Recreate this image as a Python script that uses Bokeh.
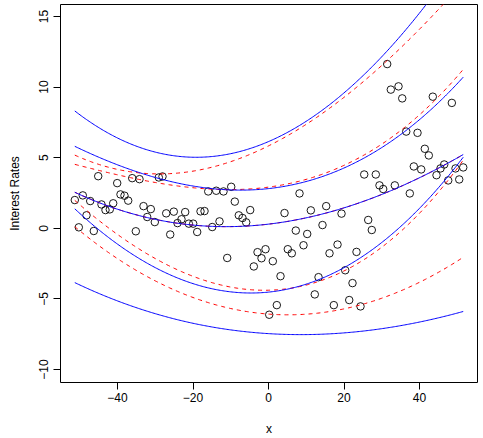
import numpy as np
from bokeh.plotting import figure
from bokeh.models import FixedTicker, Range1d
from bokeh.embed import file_html
from bokeh.resources import INLINE

# ---- data ----
x_vals = [-45.11, -40.08, -36.11, -34.17, -29.06, -28.08, -51.31, -49.19, -47.23, -39.21,
          -38.15, -37.17, -44.24, -43.18, -42.04, -41.14, -33.11, -31.18, -32.13, -30.12,
          -27.10, -25.09, -22.07, -23.05, -24.11, -21.11, -19.95, -18.89, -48.21, -50.25,
          -46.28, -35.15, -26.04,
          -9.88, -15.97, -13.85, -11.92, 8.21, -8.93, -18.01, -16.95, -4.85, -7.87,
          -6.89, -5.91, -12.98, -14.91, 4.24, 11.21, 15.28, 14.30, 7.23, 10.25,
          9.27, 5.11, 6.17, -0.79, -2.91, -1.85, 1.14, -10.94, -3.89, 3.18,
          13.25, 16.16, 12.26, 2.20, 0.19,
          31.44, 32.40, 34.44, 35.42, 43.52, 48.56, 36.48, 39.47, 41.40, 42.46,
          38.49, 40.45, 25.35, 28.42, 29.40, 30.38, 33.46, 37.43, 44.50, 45.56,
          46.54, 49.54, 51.58, 47.60, 50.52, 19.34, 26.41, 27.36, 18.28, 23.31,
          20.32, 22.25, 17.30, 21.38, 24.37]
y_vals = [3.69, 3.20, 3.55, 3.48, 3.60, 3.67, 2.00, 2.33, 1.93, 2.40,
          2.31, 1.96, 1.69, 1.29, 1.34, 1.77, 1.57, 1.36, 0.80, 0.44,
          1.06, 1.18, 1.15, 0.64, 0.37, 0.33, 0.33, -0.26, 0.92, 0.07,
          -0.19, -0.21, -0.44,
          2.94, 2.61, 2.66, 2.61, 2.47, 1.89, 1.20, 1.22, 1.29, 0.92,
          0.73, 0.42, 0.49, 0.09, 1.08, 1.27, 1.57, 0.23, -0.16, -0.40,
          -1.20, -1.48, -1.77, -1.48, -1.69, -2.12, -2.33, -2.10, -2.70, -3.39,
          -3.46, -1.77, -4.68, -5.44, -6.12,
          11.63, 9.82, 10.05, 9.20, 9.32, 8.88, 6.85, 6.76, 5.63, 5.16,
          4.38, 4.17, 3.81, 3.81, 3.04, 2.78, 3.04, 2.47, 3.76, 4.24,
          4.52, 4.24, 4.31, 3.39, 3.46, 1.04, 0.59, -0.12, -1.15, -1.67,
          -2.97, -3.88, -5.44, -5.08, -5.53]

# curve knots (x, y)
blue1_kx = [-51.2, -31.2, -29.9, -17.1, -6.6, -2.1, 0.0, 13.8, 29.7, 42.1]
blue1_ky = [8.2, 5.48, 5.67, 5.06, 5.25, 5.84, 6.1, 8.3, 12.36, 15.8]
red1_kx = [-51.2, -31.2, -29.9, -6.6, -2.1, 29.7, 45.6]
red1_ky = [5.2, 3.83, 3.79, 5.13, 5.6, 11.37, 15.7]
blue2_kx = [-51.2, -31.2, -16.9, -2.1, 0.0, 13.8, 29.7, 51.3]
blue2_ky = [5.8, 3.71, 2.65, 3.12, 2.93, 3.18, 5.84, 10.6]
red2_kx = [-51.2, -31.2, -29.9, -2.1, 13.8, 29.7, 51.3]
red2_ky = [4.5, 3.12, 3.47, 2.95, 3.43, 6.2, 11.1]
center_kx = [-51.2, -33.3, -29.9, -3.0, 0.0, 13.8, 16.4, 29.7, 42.1, 51.3]
center_ky = [2.48, 0.87, 0.76, 0.1, 0.21, 0.97, 1.1, 2.7, 3.67, 5.2]
blue4_kx = [-51.2, -33.3, -29.9, -4.8, 0.0, 12.9, 13.8, 24.3, 29.7, 42.1, 51.3]
blue4_ky = [1.42, -2.55, -2.67, -4.56, -4.56, -3.5, -3.38, -2.2, -1.41, 2.13, 4.96]
red4_kx = [-51.2, -33.3, -29.9, 0.0, 12.9, 24.3, 42.1, 50.8]
red4_ky = [1.94, -1.72, -2.0, -4.6, -3.6, -2.35, 1.54, 4.6]
red5_kx = [-51.2, -33.3, -29.9, -4.8, 4.0, 13.8, 27.0, 29.7, 51.3]
red5_ky = [0.05, -3.26, -3.6, -6.03, -6.22, -5.93, -5.15, -4.96, -2.13]
blue5_kx = [-51.2, -43.9, -29.9, -4.8, 0.0, 12.9, 13.8, 27.0, 29.7, 51.3]
blue5_ky = [-3.85, -4.68, -6.2, -7.23, -7.35, -7.5, -7.7, -7.16, -7.14, -5.9]

x_ticks = [-40, -20, 0, 20, 40]
x_tick_labels = ["\u221240", "\u221220", "0", "20", "40"]
y_ticks = [-10, -5, 0, 5, 10, 15]
y_tick_labels = ["\u221210", "\u22125", "0", "5", "10", "15"]

FONT = "Liberation Sans"

p = figure(width=483, height=438, output_backend="svg", toolbar_location=None,
           x_range=Range1d(-55.1, 55.36), y_range=Range1d(-10.918, 15.847),
           min_border_left=60, min_border_right=6, min_border_top=4, min_border_bottom=55)
p.grid.visible = False
p.outline_line_color = "black"
p.outline_line_width = 1
p.background_fill_color = "white"
p.border_fill_color = "white"

for ax, ticks, labels in ((p.xaxis, x_ticks, x_tick_labels), (p.yaxis, y_ticks, y_tick_labels)):
    ax.ticker = FixedTicker(ticks=ticks)
    ax.major_label_overrides = {t: l for t, l in zip(ticks, labels)}
    ax.axis_line_color = None
    ax.major_tick_in = 0
    ax.major_tick_out = 7
    ax.major_tick_line_color = "black"
    ax.minor_tick_line_color = None
    ax.major_label_text_font = FONT
    ax.major_label_text_font_size = "12px"
    ax.major_label_text_color = "black"
    ax.axis_label_text_font = FONT
    ax.axis_label_text_font_size = "12px"
    ax.axis_label_text_font_style = "normal"
    ax.axis_label_text_color = "black"

p.xaxis.axis_label = "x"
p.xaxis.major_label_standoff = 3
p.xaxis.axis_label_standoff = 17
p.yaxis.axis_label = "Interest Rates"
p.yaxis.major_label_orientation = "parallel"
p.yaxis.major_label_standoff = 5
p.yaxis.axis_label_standoff = 15

p.scatter(x_vals, y_vals, marker="circle", size=7.5, fill_color=None,
          line_color="black", line_width=0.9)

xs = np.linspace(min(x_vals), max(x_vals), 300)

def curve(kx, ky):
    return np.polyval(np.polyfit(kx, ky, 3), xs)

for kx, ky in ((red1_kx, red1_ky), (red2_kx, red2_ky), (center_kx, center_ky),
               (red4_kx, red4_ky), (red5_kx, red5_ky)):
    p.line(xs, curve(kx, ky), line_color="red", line_width=1, line_dash="4 4")

for kx, ky in ((blue1_kx, blue1_ky), (blue2_kx, blue2_ky), (center_kx, center_ky),
               (blue4_kx, blue4_ky), (blue5_kx, blue5_ky)):
    p.line(xs, curve(kx, ky), line_color="blue", line_width=1)

open("out.html", "w").write(file_html(p, INLINE))
